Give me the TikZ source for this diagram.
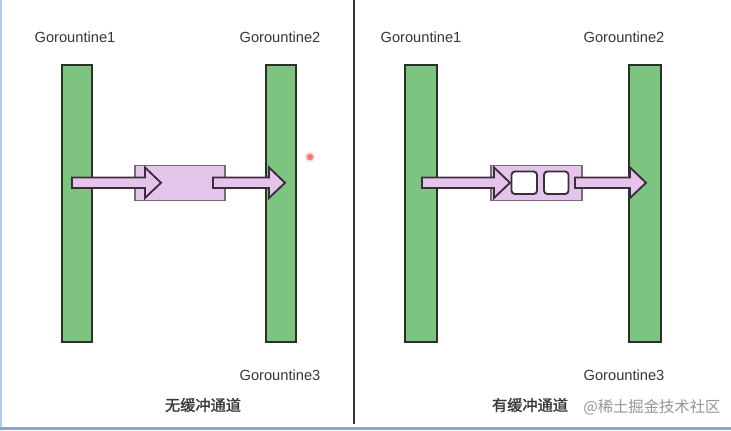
\documentclass[tikz,border=0pt]{standalone}
\usepackage{fontspec}
\setmainfont{Liberation Sans}
\newfontfamily\cjk{Noto Sans CJK SC}
\newfontfamily\cjkb[FakeBold=1.3]{Noto Sans CJK SC}
\definecolor{barfill}{RGB}{125,196,128}
\definecolor{barline}{RGB}{40,50,40}
\definecolor{chfill}{RGB}{228,196,234}
\definecolor{chline}{RGB}{60,45,60}
\definecolor{txt}{RGB}{55,55,55}
\definecolor{wm}{RGB}{150,150,150}
\definecolor{edge}{RGB}{120,170,225}
\tikzset{
  bar/.style={draw=barline, line width=1.3pt, fill=barfill},
  chan/.style={draw=chline!70, line width=0.8pt, fill=chfill},
  barrow/.style={draw=chline, line width=1.4pt, fill=chfill, line join=miter},
  slot/.style={draw=chline, line width=1.4pt, fill=white, rounded corners=2.5pt},
  lbl/.style={font=\fontsize{11}{13}\selectfont, text=txt, inner sep=0pt},
  zh/.style={font=\cjkb\fontsize{11.4}{13}\selectfont, text=txt, inner sep=0pt},
}
% block arrow from x=#1 (tail) to x=#2 (tip), centred at y=182.75
\newcommand{\blockarrow}[2]{%
  \draw[barrow] (#1,177.5) -- ({#2-16},177.5) -- ({#2-16},167.5) -- (#2,182.75)
    -- ({#2-16},198) -- ({#2-16},188) -- (#1,188) -- cycle;}
\begin{document}
\begin{tikzpicture}[x=0.75pt,y=-0.75pt]
\useasboundingbox (0,0) rectangle (731,430);
\fill[white] (0,0) rectangle (731,430);
% frame edges
\fill[edge!60] (0,0) rectangle (1.5,427);
\fill[edge] (0,427) rectangle (731,430);
% divider
\draw[line width=1.5pt, black!80] (353.5,0) -- (353.5,424);

% ---------- left panel ----------
\draw[bar] (62,65) rectangle (92,342);
\draw[bar] (266,65) rectangle (296,342);
\node[lbl] (lg1) at (75,37) {Gorountine1};
\node[lbl] (lg2) at (280,37) {Gorountine2};
\node[lbl] (lg3) at (280,375) {Gorountine3};
\node[zh] (lt) at (203,405) {无缓冲通道};
\draw[chan] (135,165.5) rectangle (225,200.5);
\blockarrow{72}{161}
\blockarrow{213}{285}
% pointer dot
\fill[red!80!white, opacity=0.8] (310,157) circle (3.2);
\fill[red!40!white, opacity=0.4] (310,157) circle (5);

% ---------- right panel ----------
\draw[bar] (405,65) rectangle (437,342);
\draw[bar] (629,65) rectangle (661,342);
\node[lbl] (rg1) at (421,37) {Gorountine1};
\node[lbl] (rg2) at (624,37) {Gorountine2};
\node[lbl] (rg3) at (624,375) {Gorountine3};
\node[zh] (rt) at (530,405) {有缓冲通道};
\draw[chan] (491,165.5) rectangle (582,200.5);
\blockarrow{422}{510}
\draw[slot] (511.5,171.5) rectangle (537,194);
\draw[slot] (544,171.5) rectangle (568.5,194);
\blockarrow{575}{646}
\node[font=\cjk\fontsize{11.5}{13}\selectfont, text=wm, inner sep=0pt, anchor=west] (wmk) at (583,407) {@稀土掘金技术社区};
\end{tikzpicture}
\end{document}
